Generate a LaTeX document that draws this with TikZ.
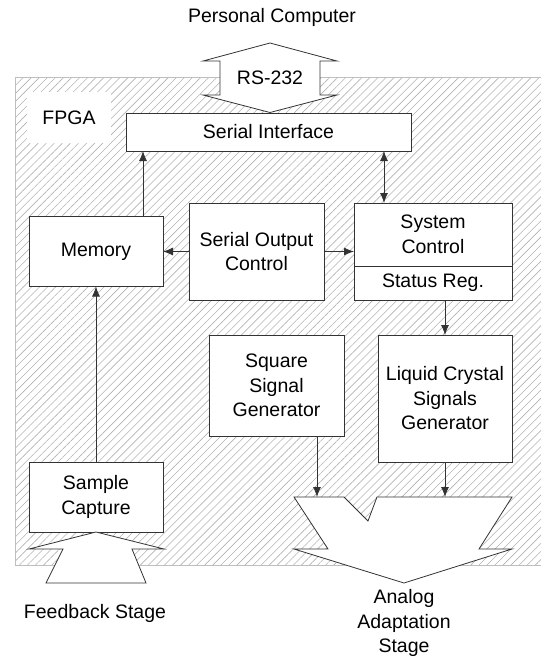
\documentclass[tikz,border=0pt]{standalone}
\usepackage{fontspec}
\setmainfont{Liberation Sans}
\usetikzlibrary{positioning,calc,arrows.meta,patterns.meta}
\tikzset{blk/.style={draw=black!80, fill=white, line width=0.8pt, inner sep=2pt, outer sep=0pt, align=center, font=\fontsize{19.5}{24.5}\selectfont}}
\tikzset{lbl/.style={align=center, font=\fontsize{19.5}{24.5}\selectfont}}
\tikzset{arr/.style={draw=black!80, line width=0.8pt, >={Latex[length=10pt,width=8pt]}}}
\tikzset{bigarr/.style={draw=black!80, fill=white, line width=0.8pt, line join=miter}}
\tikzset{hatch/.style={pattern={Lines[angle=45,distance=5.7pt,line width=0.6pt]}, pattern color=black!30}}

\begin{document}
\begin{tikzpicture}[x=1pt,y=-1pt]
	\useasboundingbox (0,0) rectangle (541,657);
	% FPGA area
	\path[hatch] (15,77.5) rectangle (541,565);
	\draw[black!25, line width=1pt] (541,77.5) -- (15,77.5) -- (15,565) -- (541,565);
	\node[lbl, fill=white, minimum width=84pt, minimum height=51pt] (FPGA) at (69,117.5) {FPGA};

	% blocks
	\node[blk, minimum width=285pt, minimum height=38pt] (SI) at (268.5,132) {Serial Interface};
	\node[blk, minimum width=135pt, minimum height=97pt] (SOC) at (256.5,251.5) {Serial Output\\Control};
	\node[blk, minimum width=134pt, minimum height=70pt, left=26pt of SOC] (Mem) {Memory};
	\node[blk, minimum width=158pt, minimum height=63pt, below right=0pt and 30pt of SOC.north east] (SysC) {System\\Control};
	\node[blk, minimum width=158pt, minimum height=34pt, below=0pt of SysC] (Stat) {Status Reg.};
	\node[blk, minimum width=135pt, minimum height=101pt, anchor=north west] (SqG) at (209,335) {Square\\Signal\\Generator};
	\node[blk, minimum width=134pt, minimum height=127pt, anchor=north west] (LCG) at (378,335) {Liquid Crystal\\Signals\\Generator};
	\node[blk, minimum width=134pt, minimum height=70pt] (Cap) at (96,497) {Sample\\Capture};

	% RS-232 link
	\draw[bigarr] (270,43) -- (337,61) -- (320,61) -- (320,95) -- (337,95) -- (270,112.5)
		-- (203,95) -- (220,95) -- (220,61) -- (203,61) -- cycle;
	\node[lbl] (RS) at (270,78) {RS-232};
	\node[lbl] (PC) at (272,17) {Personal Computer};

	% feedback input
	\draw[bigarr] (96,532) -- (164,549) -- (132,549) -- (146,583) -- (46,583) -- (63,549) -- (29,549) -- cycle;
	\node[lbl] (FB) at (95,613) {Feedback Stage};

	% analog output
	\coordinate (AinA) at (317,497);
	\coordinate (AinB) at (445,497);
	\draw[bigarr] (294,497) -- (344,497) -- (368,521) -- (377,497) -- (512,497) -- (479,549)
		-- (512,549) -- (404,583) -- (294,549) -- (328,549) -- cycle;
	\node[lbl] (AAS) at (404,623) {Analog\\Adaptation\\Stage};

	% connections
	\draw[arr, ->] ([xshift=-20pt]Mem.north east) -- ([xshift=-20pt]Mem.north east |- SI.south);
	\draw[arr, <->] ([xshift=30pt]SysC.north west) -- ([xshift=30pt]SysC.north west |- SI.south);
	\draw[arr, ->] (SOC.west) -- (Mem.east);
	\draw[arr, ->] (SOC.east) -- (SOC.east -| SysC.west);
	\draw[arr, ->] (LCG.north |- Stat.south) -- (LCG.north);
	\draw[arr, ->] (Cap.north) -- (Mem.south);
	\draw[arr, ->] (SqG.south -| AinA) -- (AinA);
	\draw[arr, ->] (LCG.south) -- (AinB);
\end{tikzpicture}
\end{document}
